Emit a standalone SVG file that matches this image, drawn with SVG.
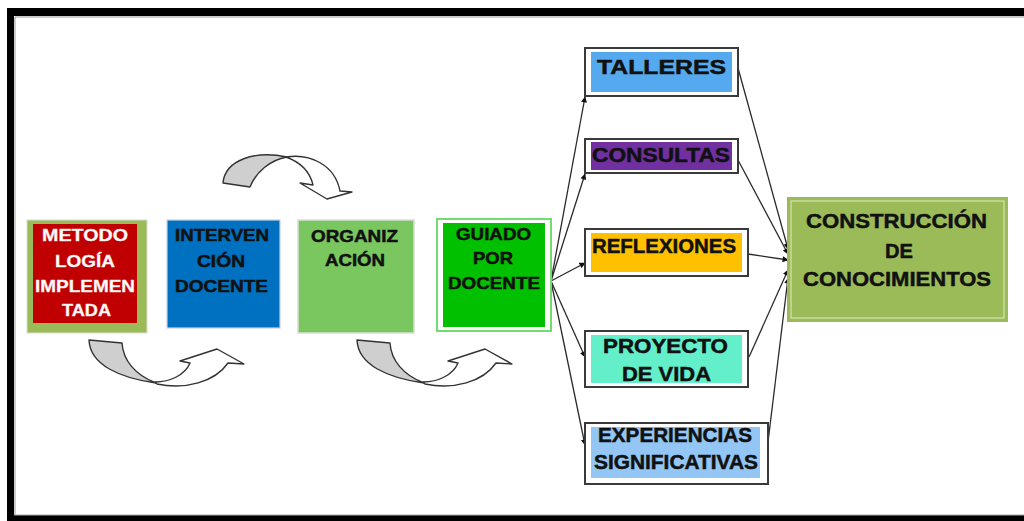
<svg xmlns="http://www.w3.org/2000/svg" width="1024" height="521" viewBox="0 0 1024 521">
<defs>
<style>
.t{font-family:"Liberation Sans",Arial,sans-serif;font-weight:bold;fill:#111;stroke:#111;stroke-width:0.5;}
.w{fill:#fff;stroke:#f4dede;stroke-width:0.4;}
.l17{font-size:17px;}
.l21{font-size:21px;}
.con{fill:none;stroke:#2a2a2a;stroke-width:1.3;marker-end:url(#ah);}
.frame{fill:#fff;stroke:#3a3a3a;stroke-width:2;}
.ca{stroke:#333;stroke-width:1.4;stroke-linejoin:round;}
</style>
<marker id="ah" viewBox="0 0 10 10" refX="9" refY="5" markerWidth="7" markerHeight="6" markerUnits="userSpaceOnUse" orient="auto">
<path d="M0,0 L10,5 L0,10 Z" fill="#111"/>
</marker>
</defs>
<rect x="0" y="0" width="1024" height="521" fill="#fff"/>
<rect x="7" y="8" width="1030" height="520" fill="#000"/>
<rect x="14" y="16" width="1020" height="499" fill="#fff"/>
<path d="M15 515 L15 17 L1024 17" fill="none" stroke="#999" stroke-width="1"/>
<line x1="14" y1="515" x2="1024" y2="515" stroke="#aaa" stroke-width="1"/>

<g id="curved-arrows">
<g id="arrow-top">
<path class="ca" fill="#fff" d="M286 157 C300 162 310 172 313 185 L300 183 L327 199 L352 192 L340 191 C335 165 310 153 286 157 Z"/>
<path class="ca" fill="#cfcfcf" d="M223 183 C225 160 255 150 287 157 C270 160 256 172 250 187 Z"/>
</g>
<g id="arrow-bottom-1">
<path class="ca" fill="#fff" d="M155 382 C170 382 185 375 190 363 L180 361 L217 349 L244 364 L228 363 C215 382 185 390 157 384 Z"/>
<path class="ca" fill="#cfcfcf" d="M89 340 L122 343 C123 360 135 375 156 383 C120 378 90 365 89 340 Z"/>
</g>
<g id="arrow-bottom-2" transform="translate(268,0)">
<path class="ca" fill="#fff" d="M155 382 C170 382 185 375 190 363 L180 361 L217 349 L244 364 L228 363 C215 382 185 390 157 384 Z"/>
<path class="ca" fill="#cfcfcf" d="M89 340 L122 343 C123 360 135 375 156 383 C120 378 90 365 89 340 Z"/>
</g>
</g>

<g id="connectors">
<line class="con" x1="551" y1="281" x2="585" y2="97"/>
<line class="con" x1="551" y1="281" x2="585" y2="174"/>
<line class="con" x1="551" y1="281" x2="585" y2="263"/>
<line class="con" x1="551" y1="281" x2="585" y2="357"/>
<line class="con" x1="551" y1="281" x2="585" y2="445"/>
<line class="con" x1="738" y1="68" x2="788" y2="249"/>
<line class="con" x1="738" y1="160" x2="788" y2="254"/>
<line class="con" x1="748" y1="254" x2="788" y2="260"/>
<line class="con" x1="749" y1="357" x2="788" y2="270"/>
<line class="con" x1="768" y1="442" x2="788" y2="278"/>
</g>

<g id="metodologia">
<rect x="27" y="220" width="120" height="113" fill="#9BBB59" stroke="#d8dccf" stroke-width="1"/>
<rect x="33" y="224" width="104" height="99" fill="#C00000"/>
<text class="t w l17" x="42" y="241" textLength="86" lengthAdjust="spacingAndGlyphs">METODO</text>
<text class="t w l17" x="55" y="267" textLength="60" lengthAdjust="spacingAndGlyphs">LOGÍA</text>
<text class="t w l17" x="35" y="292" textLength="100" lengthAdjust="spacingAndGlyphs">IMPLEMEN</text>
<text class="t w l17" x="62" y="316" textLength="49" lengthAdjust="spacingAndGlyphs">TADA</text>
</g>

<g id="intervencion">
<rect x="167" y="220" width="113" height="108" fill="#0070C0" stroke="#c5d2e2" stroke-width="1.2"/>
<text class="t l17" x="175" y="241" textLength="94" lengthAdjust="spacingAndGlyphs">INTERVEN</text>
<text class="t l17" x="197" y="267" textLength="48" lengthAdjust="spacingAndGlyphs">CIÓN</text>
<text class="t l17" x="175" y="292" textLength="93" lengthAdjust="spacingAndGlyphs">DOCENTE</text>
</g>

<g id="organizacion">
<rect x="298" y="220" width="116" height="113" fill="#7AC75F" stroke="#d9dfd4" stroke-width="1.5"/>
<text class="t l17" x="311" y="242" textLength="87" lengthAdjust="spacingAndGlyphs">ORGANIZ</text>
<text class="t l17" x="325" y="266" textLength="60" lengthAdjust="spacingAndGlyphs">ACIÓN</text>
</g>

<g id="guiado">
<rect x="437" y="219" width="114" height="112" fill="#fff" stroke="#6FDE6F" stroke-width="2"/>
<rect x="443" y="223" width="102" height="104" fill="#00C000"/>
<text class="t l17" x="456" y="240" textLength="75" lengthAdjust="spacingAndGlyphs">GUIADO</text>
<text class="t l17" x="473" y="264" textLength="40" lengthAdjust="spacingAndGlyphs">POR</text>
<text class="t l17" x="448" y="289" textLength="92" lengthAdjust="spacingAndGlyphs">DOCENTE</text>
</g>

<g id="talleres">
<rect class="frame" x="585" y="48" width="153" height="48"/>
<rect x="591" y="52" width="141" height="40" fill="#55A9EE"/>
<text class="t l21" x="597" y="74" textLength="129" lengthAdjust="spacingAndGlyphs">TALLERES</text>
</g>

<g id="consultas">
<rect class="frame" x="585" y="139" width="153" height="34"/>
<rect x="591" y="142" width="141" height="28" fill="#7030A0"/>
<text class="t l21" x="592" y="162" textLength="138" lengthAdjust="spacingAndGlyphs">CONSULTAS</text>
</g>

<g id="reflexiones">
<rect class="frame" x="585" y="229" width="163" height="47"/>
<rect x="591" y="233" width="151" height="39" fill="#FFC000"/>
<text class="t l21" x="592" y="253" textLength="144" lengthAdjust="spacingAndGlyphs">REFLEXIONES</text>
</g>

<g id="proyecto">
<rect class="frame" x="585" y="331" width="163" height="56"/>
<rect x="591" y="335" width="151" height="48" fill="#62EFC9"/>
<text class="t l21" x="603" y="353" textLength="125" lengthAdjust="spacingAndGlyphs">PROYECTO</text>
<text class="t l21" x="622" y="381" textLength="89" lengthAdjust="spacingAndGlyphs">DE VIDA</text>
</g>

<g id="experiencias">
<rect class="frame" x="585" y="423" width="183" height="61"/>
<rect x="591" y="427" width="169" height="51" fill="#93C6F4"/>
<text class="t l21" x="598" y="442" textLength="154" lengthAdjust="spacingAndGlyphs">EXPERIENCIAS</text>
<text class="t l21" x="594" y="469" textLength="164" lengthAdjust="spacingAndGlyphs">SIGNIFICATIVAS</text>
</g>

<g id="construccion">
<rect x="787" y="197" width="221" height="125" fill="#9BBB59"/>
<rect x="791" y="201" width="213" height="117" fill="none" stroke="#d4e2b0" stroke-width="1.2"/>
<text class="t l21" x="806" y="228" textLength="181" lengthAdjust="spacingAndGlyphs">CONSTRUCCIÓN</text>
<text class="t l21" x="885" y="258" textLength="28" lengthAdjust="spacingAndGlyphs">DE</text>
<text class="t l21" x="803" y="286" textLength="188" lengthAdjust="spacingAndGlyphs">CONOCIMIENTOS</text>
</g>
</svg>
